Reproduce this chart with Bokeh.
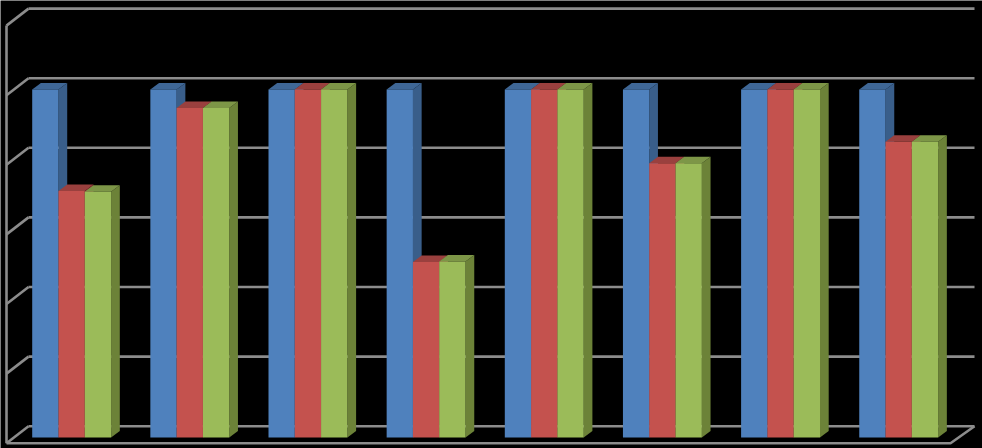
from bokeh.plotting import figure
from bokeh.embed import file_html
from bokeh.resources import INLINE

# Series values (percent); the chart has no visible labels
groups = list(range(8))
series_blue = [100, 100, 100, 100, 100, 100, 100, 100]
series_red = [70.8, 94.7, 100, 50.4, 100, 78.8, 100, 85.0]
series_green = [70.6, 94.7, 100, 50.6, 100, 78.8, 100, 85.0]
grid_values = [0, 20, 40, 60, 80, 100, 120]

# Scale: group step 118.15 px, one value unit 3.48 px
STEP, UNIT = 118.15, 3.48
X0, Y0 = 31.7, 437.0
W, H = 982, 448
xr = (-X0 / STEP, (W - X0) / STEP)
yr = ((Y0 - H) / UNIT, Y0 / UNIT)

p = figure(width=W, height=H, x_range=xr, y_range=yr, output_backend="svg",
           toolbar_location=None, min_border=0, background_fill_color="#000000",
           border_fill_color="#000000", outline_line_color=None)
p.axis.visible = False
p.grid.visible = False

# 3-D chart geometry in data units
bar_w = 26.3 / STEP
dx, dy = 8.7 / STEP, 6.5 / UNIT          # bar depth
wall_lx, wall_bx = -25.7 / STEP, -3.7 / STEP   # front / back edge of the left wall
floor_rx, back_rx = 918.3 / STEP, 942.3 / STEP  # right end, front and back
front_off, back_off = -5.7 / UNIT, 11.3 / UNIT  # wall offsets for the grid

GRID = "#8C8C8C"
LW = 2.6
# back wall gridlines and diagonals of the left wall
p.segment([wall_bx] * len(grid_values), [v + back_off for v in grid_values],
          [back_rx] * len(grid_values), [v + back_off for v in grid_values],
          line_color=GRID, line_width=LW)
p.segment([wall_lx] * len(grid_values), [v + front_off for v in grid_values],
          [wall_bx] * len(grid_values), [v + back_off for v in grid_values],
          line_color=GRID, line_width=LW)
# left wall vertical, front floor edge, right floor edge
p.line([wall_lx, wall_lx], [grid_values[-1] + front_off, front_off], line_color=GRID, line_width=LW)
p.line([wall_lx, floor_rx, back_rx], [front_off, front_off, back_off], line_color=GRID, line_width=LW)

COLORS = [("#4F81BD", "#3F6796", "#395E8A"),
          ("#C4524E", "#9A403E", "#8C3A38"),
          ("#9BBB59", "#7D9647", "#6C8238")]


def draw_bar(x, v, colors):
    front, top, side = colors
    p.patch([x + bar_w, x + bar_w + dx, x + bar_w + dx, x + bar_w],
            [0, dy, v + dy, v], fill_color=side, line_color=None)
    p.patch([x, x + dx, x + bar_w + dx, x + bar_w],
            [v, v + dy, v + dy, v], fill_color=top, line_color=None)
    p.quad(left=x, right=x + bar_w, bottom=0, top=v, fill_color=front, line_color=None)


for g in groups:
    for i, vals in enumerate((series_blue, series_red, series_green)):
        draw_bar(g + i * bar_w, vals[g], COLORS[i])

open("out.html", "w").write(file_html(p, INLINE))
